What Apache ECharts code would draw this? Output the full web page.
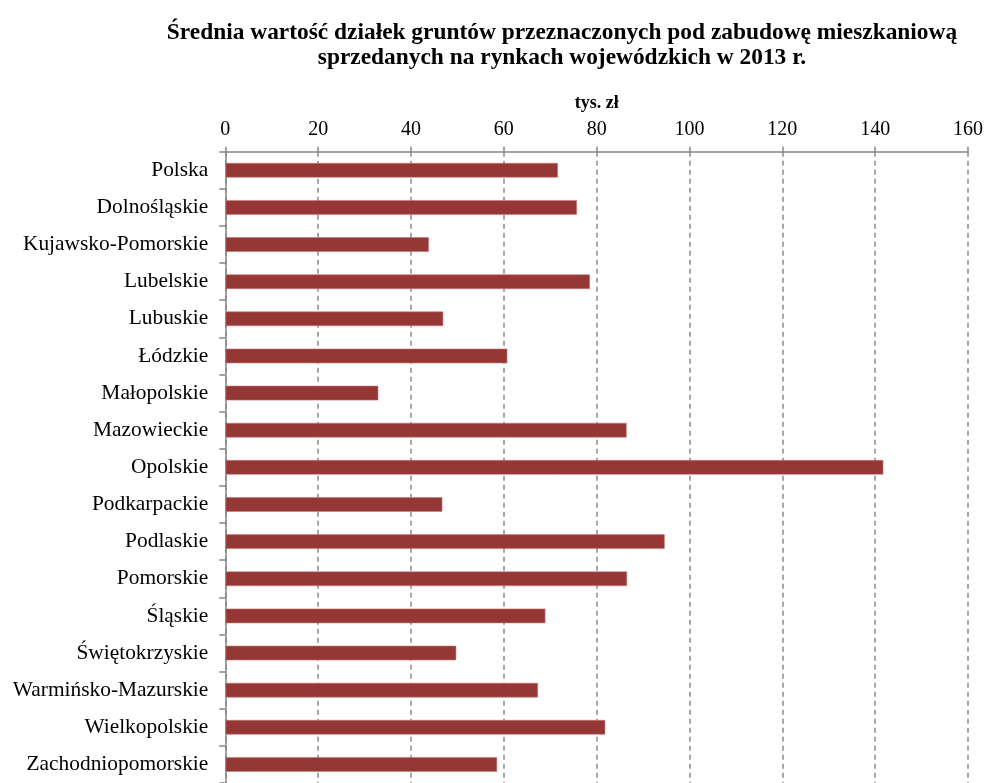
<!DOCTYPE html>
<html>
<head>
<meta charset="utf-8">
<script src="https://cdn.jsdelivr.net/npm/echarts@6/dist/echarts.min.js"></script>
<style>
html,body{margin:0;padding:0;background:#fff;overflow:hidden;}
#chart{width:986px;height:783px;}
</style>
</head>
<body>
<div id="chart"></div>
<script>
const titleText = 'Średnia wartość działek gruntów przeznaczonych pod zabudowę mieszkaniową\nsprzedanych na rynkach wojewódzkich w 2013 r.';
const axisName = 'tys. zł';
const categories = ['Polska','Dolnośląskie','Kujawsko-Pomorskie','Lubelskie','Lubuskie','Łódzkie','Małopolskie','Mazowieckie','Opolskie','Podkarpackie','Podlaskie','Pomorskie','Śląskie','Świętokrzyskie','Warmińsko-Mazurskie','Wielkopolskie','Zachodniopomorskie'];
const values = [71.7, 75.8, 43.9, 78.6, 47.0, 60.8, 33.0, 86.5, 141.8, 46.8, 94.7, 86.6, 69.0, 49.8, 67.4, 81.9, 58.6];
const xMin = 0, xMax = 160, xInterval = 20;

const font = '"Liberation Serif", "Times New Roman", serif';
const chart = echarts.init(document.getElementById('chart'), null, {renderer:'canvas'});
chart.setOption({
  animation: false,
  backgroundColor: '#ffffff',
  title: {
    text: titleText,
    left: 557,
    top: 16,
    textAlign: 'center',
    textStyle: {fontFamily: font, fontWeight: 'bold', fontSize: 23.4, color: '#000', lineHeight: 24.5}
  },
  grid: {left: 225.3, right: 986 - 968.3, top: 151.7, bottom: -4, containLabel: false},
  xAxis: {
    type: 'value', position: 'top', min: xMin, max: xMax, interval: xInterval,
    name: axisName, nameLocation: 'middle', nameGap: 39,
    nameTextStyle: {fontFamily: font, fontWeight: 'bold', fontSize: 18, color: '#000'},
    axisLine: {show: true, lineStyle: {color: '#868686', width: 1.5}},
    axisTick: {show: true, length: 5, lineStyle: {color: '#868686', width: 1.5}},
    axisLabel: {fontFamily: font, fontSize: 20, color: '#000', margin: 12},
    splitLine: {show: true, lineStyle: {color: '#8a8a8a', width: 1.5, type: [5, 4]}}
  },
  yAxis: {
    type: 'category', data: categories, inverse: true,
    axisLine: {show: true, lineStyle: {color: '#868686', width: 1.5}},
    axisTick: {show: true, length: 6, alignWithLabel: false, lineStyle: {color: '#868686', width: 1.5}},
    axisLabel: {fontFamily: font, fontSize: 21.4, color: '#000', margin: 17},
    splitLine: {show: false}
  },
  series: [{
    type: 'bar', data: values, barWidth: 15,
    itemStyle: {color: '#953735', borderColor: 'rgba(200,120,120,0.6)', borderWidth: 1}
  }]
});
</script>
</body>
</html>
